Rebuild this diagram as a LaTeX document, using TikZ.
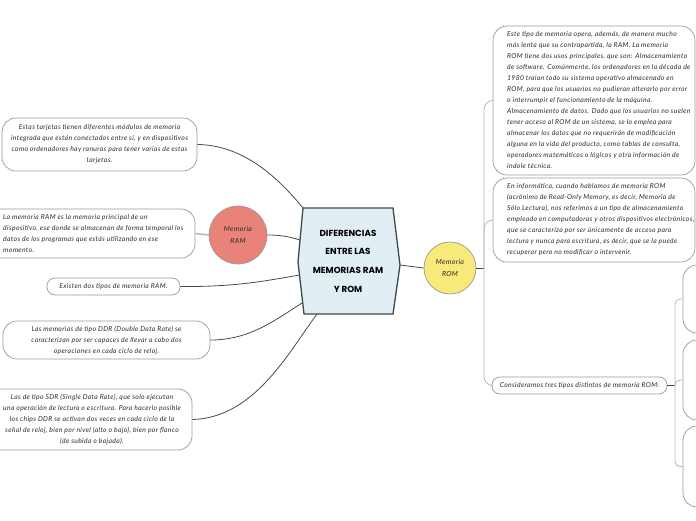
\documentclass[tikz,border=0pt]{standalone}
\usepackage{fontspec}
\setmainfont{Lato}
\newfontfamily\notefont{Lato}[LetterSpace=5]
\newfontfamily\titlefont{Poppins}
\definecolor{mainfill}{HTML}{E1EEF4}
\definecolor{mainborder}{HTML}{3F4A4F}
\definecolor{ramfill}{HTML}{E9837A}
\definecolor{romfill}{HTML}{F8E97B}
\definecolor{boxgrey}{HTML}{9A9A9A}
\definecolor{darkline}{HTML}{4A4A4A}
\definecolor{lightline}{HTML}{B8B8B8}
\definecolor{txt}{HTML}{2B2B2B}
\begin{document}
\begin{tikzpicture}[x=1pt,y=-1pt,
  notetxt/.style={inner sep=0pt, font=\notefont\fontsize{6.8}{11}\selectfont\itshape, text=txt},
  tbox/.style={notetxt, draw=boxgrey, line width=0.7pt, fill=white, rounded corners=14pt, align=center},
  pill/.style={tbox, rounded corners=8pt},
  circ/.style={circle, draw=boxgrey, line width=0.7pt, inner sep=0pt, align=center,
    font=\notefont\fontsize{7}{12}\selectfont\itshape, text=txt},
  darkc/.style={draw=darkline, line width=0.8pt},
  lightc/.style={draw=lightline, line width=0.8pt},
]
\clip (0,0) rectangle (696,520);
\fill[white] (0,0) rectangle (696,520);

% central hexagon
\coordinate (m1) at (303,208);
\coordinate (m2) at (393,208);
\coordinate (m3) at (400,265);
\coordinate (m4) at (393,314);
\coordinate (m5) at (304,314);
\coordinate (m6) at (298,262);
\coordinate (mA) at (300,240);
\coordinate (mB) at (299.5,275);
\coordinate (mC) at (302,303);
\coordinate (mD) at (317,314);
\filldraw[fill=mainfill, draw=mainborder, line width=1.3pt, line join=miter]
  (m1) -- (m2) -- (m3) -- (m4) -- (m5) -- (m6) -- cycle;
\node[align=center, font=\titlefont\bfseries\fontsize{8.8}{18.7}\selectfont, text=black] (main) at (348,261)
  {DIFERENCIAS\\ENTRE LAS\\MEMORIAS RAM\\Y ROM};

% circles
\node[circ, fill=ramfill, minimum size=58pt] (ram) at (238,235) {Memoria\\RAM};
\node[circ, fill=romfill, minimum size=52pt] (rom) at (450,268) {Memoria\\ROM};

% left boxes
\node[tbox, minimum width=195pt, minimum height=53pt] (l1) at (99.5,144.5)
  {Estas tarjetas tienen diferentes módulos de memoria\\integrada que están conectados entre sí, y en dispositivos\\como ordenadores hay ranuras para tener varias de estas\\tarjetas.};
\node[tbox, minimum width=209pt, minimum height=49pt] (l2) at (90.5,233.5) {};
\node[notetxt, anchor=west, align=left] (l2t) at (3,234)
  {La memoria RAM es la memoria principal de un\\dispositivo, ese donde se almacenan de forma temporal los\\datos de los programas que estás utilizando en ese\\momento.};
\node[pill, minimum width=133pt, minimum height=17pt] (l3) at (113.5,286.5)
  {Existen dos tipos de memoria RAM.};
\node[tbox, minimum width=207pt, minimum height=38pt] (l4) at (106.5,340)
  {Las memorias de tipo DDR (Double Data Rate) se\\caracterizan por ser capaces de llevar a cabo dos\\operaciones en cada ciclo de reloj.};
\node[tbox, minimum width=208pt, minimum height=61pt] (l5) at (88,419.5) {};
\node[notetxt, align=center] (l5t) at (92,419.5)
  {Las de tipo SDR (Single Data Rate), que solo ejecutan\\una operación de lectura o escritura. Para hacerlo posible\\los chips DDR se activan dos veces en cada ciclo de la\\señal de reloj, bien por nivel (alto o bajo), bien por flanco\\(de subida o bajada).};

% right boxes
\node[tbox, minimum width=202pt, minimum height=149pt] (r1) at (594,100.5) {};
\node[notetxt, anchor=west, align=left] (r1t) at (507,100.5)
  {Este tipo de memoria opera, además, de manera mucho\\más lenta que su contrapartida, la RAM. La memoria\\ROM tiene dos usos principales, que son: Almacenamiento\\de software. Comúnmente, los ordenadores en la década de\\1980 traían todo su sistema operativo almacenado en\\ROM, para que los usuarios no pudieran alterarlo por error\\o interrumpir el funcionamiento de la máquina.\\Almacenamiento de datos. Dado que los usuarios no suelen\\tener acceso al ROM de un sistema, se lo emplea para\\almacenar los datos que no requerirán de modificación\\alguna en la vida del producto, como tablas de consulta,\\operadores matemáticos o lógicos y otra información de\\índole técnica.};
\node[tbox, minimum width=202pt, minimum height=84pt] (r2) at (594,220) {};
\node[notetxt, anchor=west, align=left] (r2t) at (507,219.5)
  {En informática, cuando hablamos de memoria ROM\\(acrónimo de Read-Only Memory, es decir, Memoria de\\Sólo Lectura), nos referimos a un tipo de almacenamiento\\empleado en computadoras y otros dispositivos electrónicos,\\que se caracteriza por ser únicamente de acceso para\\lectura y nunca para escritura, es decir, que se la puede\\recuperar pero no modificar o intervenir.};
\node[pill, minimum width=175pt, minimum height=17pt] (r3) at (579.5,385.5)
  {Consideramos tres tipos distintos de memoria ROM:};
\node[tbox, minimum width=217pt, minimum height=68pt] (ra) at (791.5,299) {};
\node[tbox, minimum width=217pt, minimum height=80pt] (rb) at (791.5,380) {};
\node[tbox, minimum width=217pt, minimum height=81pt] (rc) at (791.5,466.5) {};

% connectors on the left
\draw[darkc] (l1.east) .. controls (245,145) and (280,180) .. (m1);
\draw[darkc] (ram.east) .. controls (282,235) and (290,237) .. (mA);
\draw[darkc] (l3.east) .. controls (235,287) and (265,281) .. (mB);
\draw[darkc] (l4.east) .. controls (250,340) and (275,320) .. (mC);
\draw[darkc] (l5.east) .. controls (255,418) and (290,350) .. (mD);
\draw[draw=lightline, line width=1.6pt] (ram.west) -- (l2.east);

% connectors on the right
\draw[darkc] (m3) -- (rom.west);
\coordinate (romj) at (484,268);
\draw[darkc] (rom.east) -- (romj);
\draw[lightc, rounded corners=9pt] (romj) -- (484,100.5) -- (r1.west);
\draw[lightc, rounded corners=9pt] (romj) -- (484,220) -- (r2.west);
\draw[lightc, rounded corners=9pt] (romj) -- (484,385.5) -- (r3.west);
\coordinate (cj) at (675,385.5);
\draw[darkc] (r3.east) -- (cj);
\draw[lightc, rounded corners=5pt] (cj) -- (675,299) -- (ra.west);
\draw[lightc, rounded corners=5pt] (cj) -- (675,380) -- (rb.west);
\draw[lightc, rounded corners=5pt] (cj) -- (675,466.5) -- (rc.west);
\end{tikzpicture}
\end{document}
